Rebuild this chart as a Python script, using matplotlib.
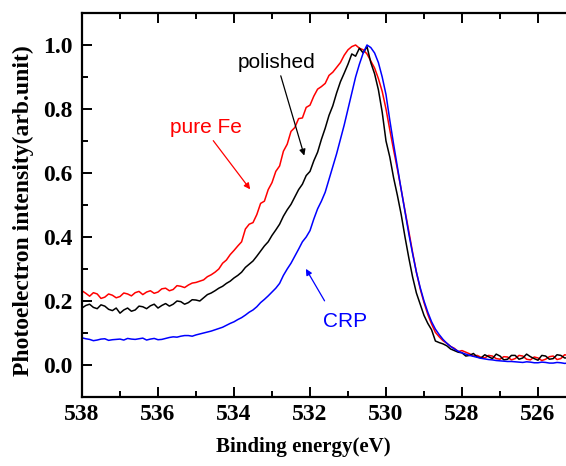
import numpy as np
import matplotlib
matplotlib.use("Agg")
import matplotlib.pyplot as plt
from matplotlib.ticker import MultipleLocator, FormatStrFormatter

# Binding energy grid (eV): 538.0, 537.9, ... 525.2 (129 points)
energy = np.round(538.0 - 0.1 * np.arange(129), 1)

# each row covers 1 eV (10 points), last row 526.0 -> 525.2
pure_fe = [
    0.232, 0.224, 0.215, 0.226, 0.222, 0.208, 0.212, 0.222, 0.218, 0.210,
    0.214, 0.225, 0.222, 0.216, 0.226, 0.230, 0.220, 0.228, 0.232, 0.224,
    0.228, 0.238, 0.240, 0.232, 0.236, 0.248, 0.246, 0.242, 0.250, 0.256,
    0.258, 0.262, 0.266, 0.276, 0.282, 0.290, 0.300, 0.318, 0.328, 0.345,
    0.358, 0.372, 0.385, 0.425, 0.440, 0.445, 0.470, 0.505, 0.512, 0.548,
    0.570, 0.605, 0.622, 0.668, 0.690, 0.730, 0.742, 0.770, 0.772, 0.805,
    0.812, 0.840, 0.862, 0.870, 0.880, 0.905, 0.915, 0.930, 0.945, 0.968,
    0.985, 0.995, 1.000, 0.990, 0.985, 0.972, 0.950, 0.928, 0.895, 0.855,
    0.800, 0.735, 0.672, 0.612, 0.548, 0.482, 0.418, 0.352, 0.290, 0.238,
    0.195, 0.158, 0.128, 0.102, 0.088, 0.076, 0.068, 0.058, 0.052, 0.042,
    0.045, 0.040, 0.035, 0.028, 0.030, 0.024, 0.022, 0.030, 0.028, 0.020,
    0.018, 0.026, 0.025, 0.016, 0.020, 0.030, 0.028, 0.018, 0.016, 0.025,
    0.022, 0.014, 0.018, 0.026, 0.028, 0.017, 0.020, 0.032, 0.030,
]

polished = [
    0.178, 0.186, 0.190, 0.180, 0.176, 0.188, 0.184, 0.174, 0.170, 0.178,
    0.162, 0.172, 0.178, 0.168, 0.172, 0.184, 0.182, 0.176, 0.185, 0.190,
    0.178, 0.186, 0.192, 0.184, 0.190, 0.200, 0.198, 0.190, 0.195, 0.204,
    0.203, 0.200, 0.210, 0.220, 0.225, 0.232, 0.240, 0.246, 0.255, 0.262,
    0.272, 0.280, 0.290, 0.305, 0.315, 0.325, 0.340, 0.356, 0.372, 0.385,
    0.405, 0.422, 0.440, 0.465, 0.485, 0.502, 0.525, 0.548, 0.565, 0.592,
    0.605, 0.638, 0.665, 0.705, 0.740, 0.780, 0.810, 0.850, 0.885, 0.912,
    0.940, 0.972, 0.965, 0.990, 0.975, 0.995, 0.945, 0.910, 0.860, 0.790,
    0.700, 0.650, 0.585, 0.530, 0.470, 0.400, 0.335, 0.275, 0.225, 0.190,
    0.155, 0.130, 0.110, 0.075, 0.070, 0.066, 0.060, 0.050, 0.045, 0.040,
    0.038, 0.028, 0.030, 0.036, 0.025, 0.022, 0.032, 0.026, 0.020, 0.034,
    0.028, 0.016, 0.018, 0.030, 0.030, 0.018, 0.022, 0.034, 0.026, 0.020,
    0.015, 0.030, 0.028, 0.018, 0.020, 0.032, 0.030, 0.022, 0.022,
]

crp = [
    0.085, 0.082, 0.080, 0.076, 0.078, 0.081, 0.082, 0.077, 0.079, 0.080,
    0.081, 0.078, 0.083, 0.081, 0.080, 0.082, 0.084, 0.078, 0.081, 0.083,
    0.079, 0.080, 0.083, 0.086, 0.088, 0.087, 0.090, 0.092, 0.092, 0.090,
    0.094, 0.097, 0.100, 0.103, 0.106, 0.110, 0.114, 0.118, 0.124, 0.130,
    0.135, 0.142, 0.148, 0.156, 0.165, 0.172, 0.182, 0.195, 0.205, 0.216,
    0.228, 0.240, 0.255, 0.280, 0.300, 0.318, 0.340, 0.362, 0.385, 0.400,
    0.420, 0.456, 0.488, 0.512, 0.540, 0.580, 0.620, 0.660, 0.705, 0.750,
    0.800, 0.850, 0.900, 0.940, 0.975, 1.000, 0.992, 0.975, 0.945, 0.900,
    0.845, 0.765, 0.690, 0.618, 0.548, 0.478, 0.410, 0.348, 0.290, 0.242,
    0.200, 0.165, 0.135, 0.112, 0.095, 0.080, 0.068, 0.058, 0.050, 0.043,
    0.038, 0.034, 0.030, 0.027, 0.024, 0.021, 0.019, 0.017, 0.016, 0.014,
    0.013, 0.012, 0.011, 0.011, 0.010, 0.009, 0.008, 0.010, 0.009, 0.007,
    0.007, 0.009, 0.008, 0.006, 0.006, 0.008, 0.007, 0.005, 0.006,
]

serif = "Liberation Serif"
sans = "Liberation Sans"

fig = plt.figure(figsize=(5.66, 4.66), dpi=100)
# right edge of the frame runs just past the picture, as in the original
ax = fig.add_axes([82 / 566, 69 / 466, 486 / 566, 384 / 466])

ax.plot(energy, pure_fe, color="#ff0000", lw=1.1)
ax.plot(energy, polished, color="black", lw=1.1)
ax.plot(energy, crp, color="#0000ff", lw=1.1)

ax.set_xlim(538, 538 - 486 / 38)
ax.set_ylim(-0.1, 1.1)
ax.xaxis.set_major_locator(MultipleLocator(2))
ax.xaxis.set_minor_locator(MultipleLocator(1))
ax.yaxis.set_major_locator(MultipleLocator(0.2))
ax.yaxis.set_minor_locator(MultipleLocator(0.1))
ax.yaxis.set_major_formatter(FormatStrFormatter("%.1f"))
ax.tick_params(which="both", direction="in", top=True, right=False, width=1.4)
ax.tick_params(which="major", length=7)
ax.tick_params(which="minor", length=4.5)
ax.tick_params(axis="y", pad=7)
ax.tick_params(axis="x", pad=5)
for s in ax.spines.values():
    s.set_linewidth(1.6)

for lab in ax.get_xticklabels() + ax.get_yticklabels():
    lab.set_fontfamily(serif)
    lab.set_fontweight("bold")
    lab.set_fontsize(17)

ax.set_xlabel("Binding energy(eV)", fontfamily=serif, fontweight="bold", fontsize=15)
ax.set_ylabel("Photoelectron intensity(arb.unit)", fontfamily=serif, fontweight="bold", fontsize=17)
ax.xaxis.set_label_coords((303 - 82) / 486, -(447 - 397) / 384)
ax.yaxis.set_label_coords(-(82 - 23) / 486, (397 - 211) / 384)
ax.xaxis.label.set_va("center")
ax.yaxis.label.set_va("center")

# sample labels with arrows
ax.text(534.75, 0.741, "pure Fe", color="#ff0000", fontfamily=sans, fontsize=15, ha="center", va="center")
ax.annotate("", xy=(533.53, 0.542), xytext=(534.59, 0.708),
            arrowprops=dict(arrowstyle="-|>", color="#ff0000", lw=0.9, mutation_scale=9))
ax.text(532.88, 0.945, "polished", color="black", fontfamily=sans, fontsize=15, ha="center", va="center")
ax.annotate("", xy=(532.13, 0.646), xytext=(532.79, 0.912),
            arrowprops=dict(arrowstyle="-|>", color="black", lw=0.9, mutation_scale=9))
ax.text(531.09, 0.135, "CRP", color="#0000ff", fontfamily=sans, fontsize=15, ha="center", va="center")
ax.annotate("", xy=(532.145, 0.308), xytext=(531.58, 0.193),
            arrowprops=dict(arrowstyle="-|>", color="#0000ff", lw=0.9, mutation_scale=9))

fig.savefig("out.png", dpi=100)
